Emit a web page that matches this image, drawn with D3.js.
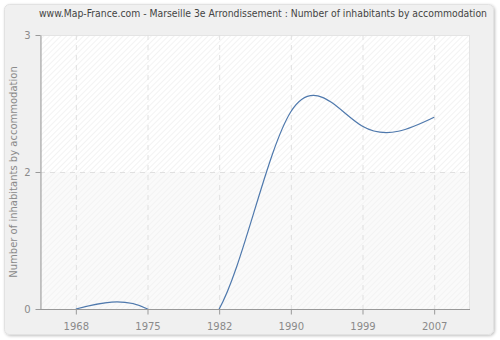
<!DOCTYPE html>
<html><head><meta charset="utf-8">
<script src="https://cdn.jsdelivr.net/npm/d3@7"></script>
<style>body{margin:0;background:#fff}svg{display:block}</style>
</head><body>
<svg id="c" width="500" height="340"></svg>
<script>
const years = ["1968","1975","1982","1990","1999","2007"];
const values = [0, 0, 0, 2.16, 2.0, 2.1];
const yTickValues = [0, 1.5, 3];
const yTickLabels = ["0", "2", "3"];
const title = "www.Map-France.com - Marseille 3e Arrondissement : Number of inhabitants by accommodation";
const yTitle = "Number of inhabitants by accommodation";

const svg = d3.select("#c");
const W = 500, H = 340;
const m = {l: 40, r: 30, t: 35, b: 31};
const pw = W - m.l - m.r, ph = H - m.t - m.b;

const defs = svg.append("defs");
const f = defs.append("filter").attr("id","sh").attr("x","-5%").attr("y","-5%").attr("width","110%").attr("height","110%");
f.append("feGaussianBlur").attr("in","SourceAlpha").attr("stdDeviation",1.5);
f.append("feOffset").attr("dx",1).attr("dy",1).attr("result","o");
f.append("feComponentTransfer").append("feFuncA").attr("type","linear").attr("slope",0.25);
const mg = f.append("feMerge"); mg.append("feMergeNode"); mg.append("feMergeNode").attr("in","SourceGraphic");

const pat = defs.append("pattern").attr("id","hatch").attr("patternUnits","userSpaceOnUse")
  .attr("width",4).attr("height",4).attr("patternTransform","rotate(45)");
pat.append("rect").attr("width",4).attr("height",4).attr("fill","#ffffff");
pat.append("line").attr("x1",0).attr("y1",0).attr("x2",0).attr("y2",4).attr("stroke","#ececec").attr("stroke-width",1.2);

svg.append("rect").attr("x",0).attr("y",0).attr("width",W).attr("height",H).attr("fill","#ffffff");
svg.append("rect").attr("x",4.5).attr("y",4.5).attr("width",489).attr("height",330).attr("rx",5)
  .attr("fill","#f0f0f0").attr("stroke","#e2e2e2").attr("filter","url(#sh)");

const x = d3.scalePoint().domain(years).range([m.l, m.l + pw]).padding(0.5);
const y = d3.scaleLinear().domain([0, 3]).range([m.t + ph, m.t]);

svg.append("rect").attr("x",m.l).attr("y",m.t).attr("width",pw).attr("height",ph).attr("fill","url(#hatch)");
svg.append("rect").attr("x",m.l).attr("y",y(1.5)).attr("width",pw).attr("height",y(0)-y(1.5)).attr("fill","#f4f4f4").attr("opacity",0.45);
svg.append("rect").attr("x",m.l+0.5).attr("y",m.t+0.5).attr("width",pw-1).attr("height",ph).attr("fill","none").attr("stroke","#e4e4e4");

const g = svg.append("g");
g.selectAll(".vg").data(years).join("line")
  .attr("x1",d=>x(d)+0.5).attr("x2",d=>x(d)+0.5).attr("y1",m.t).attr("y2",m.t+ph)
  .attr("stroke","#e0e0e0").attr("stroke-dasharray","5,5");
g.selectAll(".hg").data(yTickValues.filter(v=>v>0 && v<3)).join("line")
  .attr("x1",m.l).attr("x2",m.l+pw).attr("y1",d=>Math.round(y(d))+0.5).attr("y2",d=>Math.round(y(d))+0.5)
  .attr("stroke","#e0e0e0").attr("stroke-dasharray","5,5");

svg.append("defs").append("clipPath").attr("id","clip").append("rect")
  .attr("x",m.l).attr("y",m.t).attr("width",pw).attr("height",ph);
const line = d3.line().x((d,i)=>x(years[i])).y(d=>y(d)).curve(d3.curveNatural);
svg.append("path").datum(values).attr("d",line).attr("clip-path","url(#clip)")
  .attr("fill","none").attr("stroke","#4f79ad").attr("stroke-width",1.2);

const xa = svg.append("g").attr("transform",`translate(0,${m.t+ph+0.5})`)
  .call(d3.axisBottom(x).tickSize(5).tickSizeOuter(0));
const ya = svg.append("g").attr("transform",`translate(${m.l+0.5},0)`)
  .call(d3.axisLeft(y).tickValues(yTickValues).tickFormat((d,i)=>yTickLabels[i]).tickSize(5).tickSizeOuter(0));
[xa, ya].forEach(a=>{
  a.select(".domain").attr("stroke","#999");
  a.selectAll(".tick line").attr("stroke","#999");
  a.selectAll("text").attr("fill","#8a8a8a").attr("font-family","DejaVu Sans, sans-serif").attr("font-size","10px");
});
xa.selectAll("text").attr("dy","1.25em");
ya.selectAll("text").attr("dx","-0.2em");
xa.select(".domain").attr("d",`M${m.l},0H${m.l+pw}`);

svg.append("text").attr("x",263).attr("y",17).attr("text-anchor","middle")
  .attr("font-family","DejaVu Sans Condensed, DejaVu Sans, sans-serif").attr("font-size","10.5px")
  .attr("textLength",448).attr("lengthAdjust","spacingAndGlyphs")
  .attr("fill","#444").text(title);
svg.append("text").attr("transform",`translate(17,${m.t+ph/2}) rotate(-90)`).attr("text-anchor","middle")
  .attr("font-family","DejaVu Sans, sans-serif").attr("font-size","10px").attr("fill","#8a8a8a").text(yTitle);
</script>
</body></html>
